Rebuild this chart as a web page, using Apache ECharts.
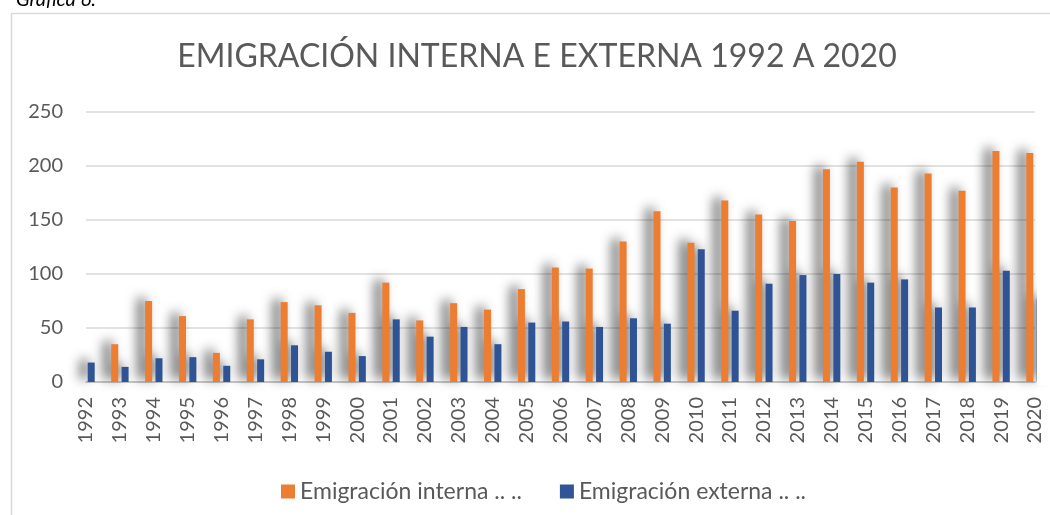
<!DOCTYPE html>
<html>
<head>
<meta charset="utf-8">
<script src="https://cdn.jsdelivr.net/npm/echarts@6/dist/echarts.min.js"></script>
<style>
  html, body { margin: 0; padding: 0; background: #fff; }
  #main { width: 1050px; height: 515px; }
</style>
</head>
<body>
<div id="main"></div>
<script>
// datos
const years = ['1992', '1993', '1994', '1995', '1996', '1997', '1998', '1999', '2000', '2001',
  '2002', '2003', '2004', '2005', '2006', '2007', '2008', '2009', '2010', '2011',
  '2012', '2013', '2014', '2015', '2016', '2017', '2018', '2019', '2020'];
const interna = [null, 35, 75, 61, 27, 58, 74, 71, 64, 92,
  57, 73, 67, 86, 106, 105, 130, 158, 129, 168,
  155, 149, 197, 204, 180, 193, 177, 214, 212];
const externa = [18, 14, 22, 23, 15, 21, 34, 28, 24, 58,
  42, 51, 35, 55, 56, 51, 59, 54, 123, 66,
  91, 99, 100, 92, 95, 69, 69, 103, 77];
const yTicks = [0, 50, 100, 150, 200, 250];

const FONT = 'Lato';
const GREY = '#595959';

const myChart = echarts.init(document.getElementById('main'));

const shadow = {
  shadowBlur: 12,
  shadowOffsetX: -7,
  shadowOffsetY: -3,
  shadowColor: 'rgba(0,0,0,0.7)'
};

const option = {
  animation: false,
  backgroundColor: '#fff',
  textStyle: { fontFamily: FONT },
  title: {
    text: 'EMIGRACIÓN INTERNA E EXTERNA 1992 A 2020',
    left: 532,
    textAlign: 'center',
    top: 36,
    textStyle: { fontFamily: FONT, fontSize: 32, fontWeight: 'normal', color: GREY }
  },
  graphic: [
    {
      type: 'rect',
      shape: { x: 11.5, y: 13.5, width: 1100, height: 520 },
      style: { fill: 'none', stroke: '#d9d9d9', lineWidth: 1.5 },
      silent: true
    },
    {
      // el gráfico original está recortado a la derecha del eje
      type: 'rect',
      shape: { x: 1037, y: 100, width: 20, height: 285 },
      style: { fill: '#fff' },
      z: 100,
      silent: true
    },
    {
      type: 'text',
      left: 16,
      top: -10,
      style: { text: 'Gráfica 6.', font: 'italic 20px ' + FONT, fill: '#000' }
    }
  ],
  legend: {
    left: 276,
    top: 475,
    itemWidth: 14,
    itemHeight: 14,
    itemGap: 38,
    icon: 'rect',
    textStyle: { fontFamily: FONT, fontSize: 23, color: GREY },
    data: ['Emigración interna .. ..', 'Emigración externa .. ..']
  },
  grid: { left: 86, right: 15, top: 112, bottom: 133, containLabel: false },
  xAxis: {
    type: 'category',
    data: years,
    boundaryGap: false,
    axisLine: { lineStyle: { color: '#bfbfbf', width: 1.5 } },
    axisTick: { show: false },
    axisLabel: {
      rotate: 90,
      interval: 0,
      margin: 15,
      fontFamily: FONT,
      fontSize: 20,
      color: GREY
    },
    splitLine: { show: false }
  },
  yAxis: {
    type: 'value',
    min: yTicks[0],
    max: yTicks[yTicks.length - 1],
    interval: 50,
    axisLine: { show: false },
    axisTick: { show: false },
    axisLabel: { margin: 23, fontFamily: FONT, fontSize: 20, color: GREY },
    splitLine: { lineStyle: { color: '#d9d9d9', width: 1.5 } }
  },
  series: [
    {
      name: 'Emigración interna .. ..',
      type: 'bar',
      data: interna,
      barWidth: 7,
      barGap: '48%',
      z: 3,
      itemStyle: Object.assign({ color: '#ED7D31' }, shadow)
    },
    {
      name: 'Emigración externa .. ..',
      type: 'bar',
      data: externa,
      barWidth: 7,
      barGap: '48%',
      z: 2,
      itemStyle: Object.assign({ color: '#2F5597' }, shadow)
    }
  ]
};

myChart.setOption(option);
</script>
</body>
</html>
